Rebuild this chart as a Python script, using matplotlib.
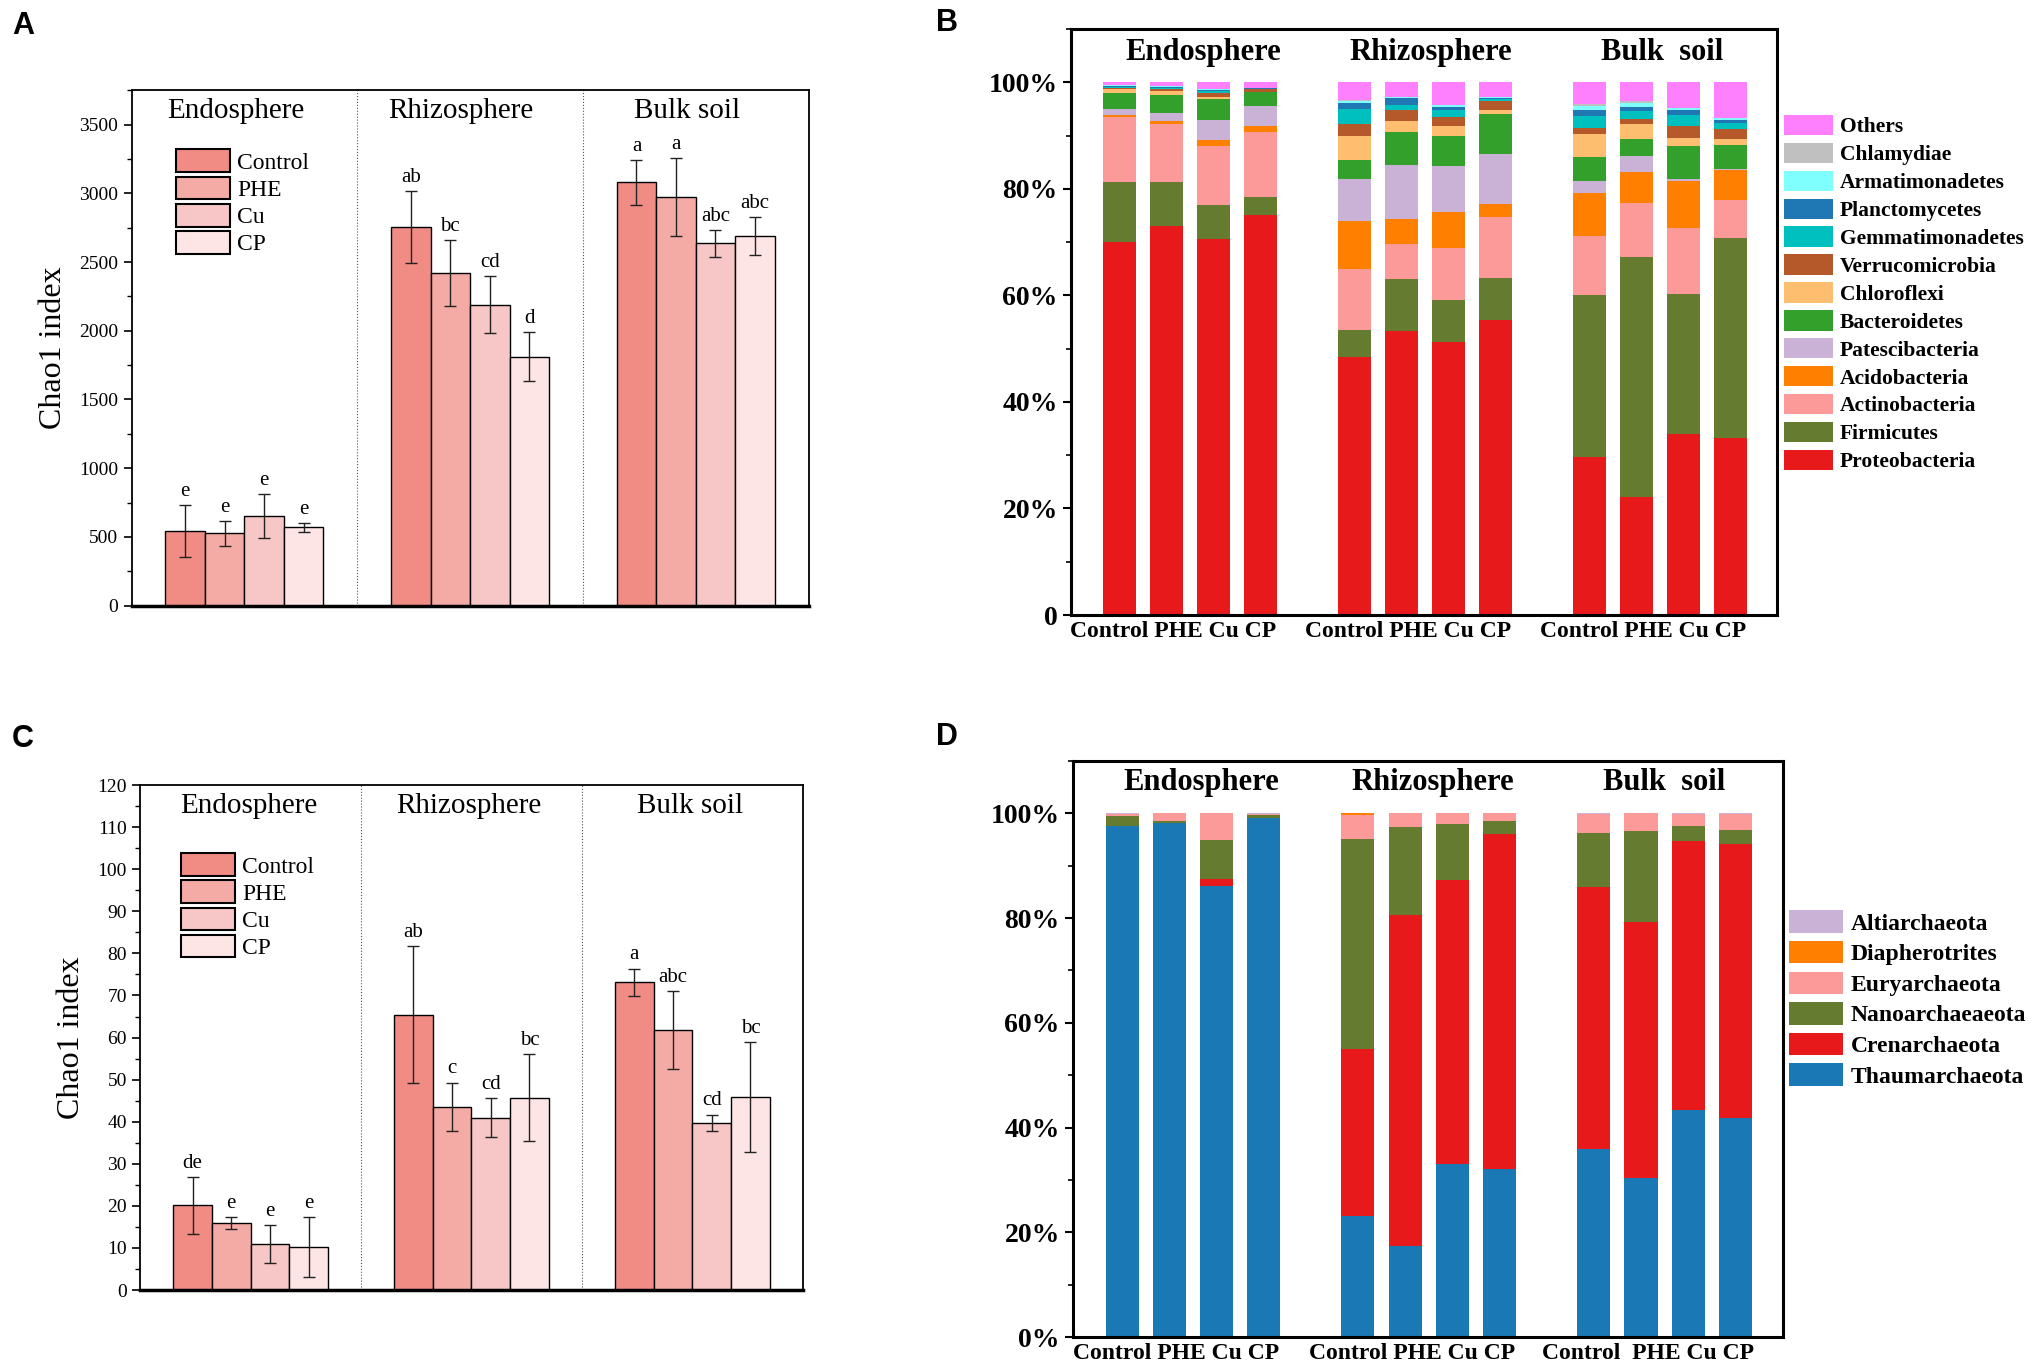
import numpy as np
import matplotlib
matplotlib.use("Agg")
import matplotlib.pyplot as plt
from matplotlib.patches import Patch
from matplotlib.ticker import MultipleLocator, FuncFormatter

plt.rcParams['font.family'] = ['Liberation Serif', 'DejaVu Serif']

# ===== Data =====
compartments = ["Endosphere", "Rhizosphere", "Bulk soil"]
treatments = ["Control", "PHE", "Cu", "CP"]
treat_colors = ["#F08C84", "#F5ABA5", "#F7C6C6", "#FDE5E5"]

# Chao1, rows = compartment, cols = treatment
chao_bac = [[542, 527, 654, 569], [2756, 2419, 2190, 1810], [3081, 2973, 2636, 2687]]
chao_bac_err = [[187, 90, 160, 33], [262, 238, 208, 178], [163, 283, 99, 138]]
chao_bac_sig = [["e", "e", "e", "e"], ["ab", "bc", "cd", "d"], ["a", "a", "abc", "abc"]]

chao_arc = [[20.1, 15.9, 10.9, 10.2], [65.4, 43.6, 41.0, 45.7], [73.1, 61.8, 39.8, 45.9]]
chao_arc_err = [[6.7, 1.4, 4.5, 7.1], [16.3, 5.7, 4.6, 10.4], [3.3, 9.3, 1.9, 13.0]]
chao_arc_sig = [["de", "e", "e", "e"], ["ab", "c", "cd", "bc"], ["a", "abc", "cd", "bc"]]

# relative abundance (%), samples: Endo C/P/Cu/CP, Rhizo C/P/Cu/CP, Bulk C/P/Cu/CP
bac_phyla = ["Proteobacteria", "Firmicutes", "Actinobacteria", "Acidobacteria",
             "Patescibacteria", "Bacteroidetes", "Chloroflexi", "Verrucomicrobia",
             "Gemmatimonadetes", "Planctomycetes", "Armatimonadetes", "Chlamydiae", "Others"]
bac_colors = ["#E8191B", "#657B30", "#FB9A99", "#FF7F00", "#CAB2D6", "#33A02C", "#FDBF6F",
              "#B5592A", "#00BFBF", "#1F77B4", "#80FFFF", "#C0C0C0", "#FF80FF"]
proteobacteria = [70.1, 73.0, 70.5, 75.1, 48.5, 53.3, 51.3, 55.4, 29.6, 22.2, 34.0, 33.3]
firmicutes = [11.2, 8.3, 6.4, 3.4, 5.0, 9.7, 7.9, 7.8, 30.4, 45.0, 26.3, 37.5]
actinobacteria = [12.1, 10.9, 11.2, 12.1, 11.5, 6.7, 9.7, 11.5, 11.2, 10.1, 12.3, 7.1]
acidobacteria = [0.5, 0.5, 1.1, 1.2, 8.9, 4.7, 6.7, 2.4, 8.0, 5.9, 8.8, 5.7]
patescibacteria = [1.1, 1.6, 3.7, 3.8, 8.0, 10.0, 8.6, 9.4, 2.3, 3.0, 0.5, 0.1]
bacteroidetes = [2.9, 3.4, 3.9, 2.5, 3.5, 6.2, 5.8, 7.6, 4.4, 3.2, 6.2, 4.5]
chloroflexi = [0.8, 0.7, 0.5, 0.1, 4.6, 2.2, 1.8, 0.7, 4.4, 2.8, 1.4, 1.2]
verrucomicrobia = [0.2, 0.4, 0.6, 0.5, 2.1, 2.0, 1.6, 1.6, 1.1, 0.9, 2.3, 1.8]
gemmatimonadetes = [0.3, 0.2, 0.4, 0.1, 2.9, 1.0, 1.4, 0.4, 2.3, 1.5, 2.0, 1.1]
planctomycetes = [0.1, 0.2, 0.2, 0.1, 1.1, 1.2, 0.6, 0.3, 1.1, 0.8, 0.9, 0.6]
armatimonadetes = [0.1, 0.1, 0.2, 0.1, 0.4, 0.2, 0.3, 0.1, 0.8, 0.8, 0.4, 0.3]
chlamydiae = [0.1, 0.0, 0.0, 0.0, 0.1, 0.1, 0.0, 0.0, 0.3, 0.2, 0.0, 0.0]
others = [0.5, 0.7, 1.3, 1.0, 3.4, 2.7, 4.3, 2.8, 4.1, 3.6, 4.9, 6.8]
bac_data = [proteobacteria, firmicutes, actinobacteria, acidobacteria, patescibacteria,
            bacteroidetes, chloroflexi, verrucomicrobia, gemmatimonadetes, planctomycetes,
            armatimonadetes, chlamydiae, others]

arc_phyla = ["Thaumarchaeota", "Crenarchaeota", "Nanoarchaeaeota", "Euryarchaeota",
             "Diapherotrites", "Altiarchaeota"]
arc_colors = ["#1A78B5", "#E8191B", "#657B30", "#FB9A99", "#FF7F00", "#CAB2D6"]
thaumarchaeota = [97.5, 98.1, 86.2, 99.2, 23.1, 17.3, 33.1, 32.1, 35.9, 30.3, 43.3, 41.9]
crenarchaeota = [0.1, 0.1, 1.2, 0.0, 32.0, 63.2, 54.2, 63.9, 50.0, 48.9, 51.4, 52.2]
nanoarchaeaeota = [1.9, 0.4, 7.6, 0.4, 40.0, 16.9, 10.7, 2.5, 10.3, 17.5, 2.8, 2.7]
euryarchaeota = [0.3, 1.4, 5.0, 0.3, 4.6, 2.6, 2.0, 1.5, 3.7, 3.3, 2.3, 3.0]
diapherotrites = [0.1, 0.0, 0.0, 0.0, 0.3, 0.0, 0.0, 0.0, 0.0, 0.0, 0.0, 0.0]
altiarchaeota = [0.1, 0.0, 0.0, 0.1, 0.0, 0.0, 0.0, 0.0, 0.1, 0.0, 0.2, 0.2]
arc_data = [thaumarchaeota, crenarchaeota, nanoarchaeaeota, euryarchaeota,
            diapherotrites, altiarchaeota]

bac_titles = ["Endosphere", "Rhizosphere", "Bulk  soil"]
bac_ticklabels = ["Control PHE Cu CP", "Control PHE Cu CP", "Control PHE Cu CP"]
arc_ticklabels = ["Control PHE Cu CP", "Control PHE Cu CP", "Control  PHE Cu CP"]


# ===== Chao1 bar panels =====
def chao_panel(ax, vals, errs, sigs, ymax, major, minor, title_y, title_dx, leg_xy):
    w = 0.175
    for g in range(3):
        for t in range(4):
            x = g + (t - 1.5) * w
            ax.bar(x, vals[g][t], w, color=treat_colors[t], edgecolor='black', linewidth=1.0,
                   yerr=errs[g][t], capsize=4,
                   error_kw=dict(elinewidth=1, capthick=1, ecolor='#222222'))
            ax.annotate(sigs[g][t], (x, vals[g][t] + errs[g][t]), xytext=(0, 3),
                        textcoords='offset points', ha='center', va='bottom', fontsize=15)
        ax.text(g + title_dx, title_y, compartments[g], ha='center', va='center', fontsize=21)
    for d in (0.5, 1.5):
        ax.axvline(d, color='#555555', linestyle=':', linewidth=0.8)
    ax.set_xlim(-0.5, 2.5)
    ax.set_ylim(0, ymax)
    ax.set_xticks([])
    ax.yaxis.set_major_locator(MultipleLocator(major))
    ax.yaxis.set_minor_locator(MultipleLocator(minor))
    ax.tick_params(axis='y', which='major', direction='out', length=6, width=1.2, labelsize=14)
    ax.tick_params(axis='y', which='minor', direction='out', length=3.5, width=1.0)
    ax.set_ylabel("Chao1 index", fontsize=23, labelpad=8)
    for s in ax.spines.values():
        s.set_linewidth(1.3)
    ax.spines['bottom'].set_linewidth(2.5)
    handles = [Patch(facecolor=c, edgecolor='black', linewidth=1.5) for c in treat_colors]
    ax.legend(handles, treatments, loc='upper left', bbox_to_anchor=leg_xy, frameon=False,
              fontsize=17, handlelength=2.3, handleheight=1.1, handletextpad=0.3,
              labelspacing=0.12, borderpad=0, borderaxespad=0)


# ===== Stacked composition panels =====
def stack_panel(ax, names, colors, data, ticklabels, title_y, title_dx, zero_label,
                leg_xy, leg_size, leg_spacing, fig):
    pos = np.concatenate([np.arange(4) + 5 * g for g in range(3)])
    bottom = np.zeros(len(pos))
    bars = []
    for vals, col in zip(data, colors):
        b = ax.bar(pos, vals, 0.7, bottom=bottom, color=col, linewidth=0)
        bars.append(b)
        bottom += np.array(vals)
    for g in range(3):
        ax.text(5 * g + 1.5 + title_dx[g], title_y, bac_titles[g], ha='center', va='center',
                fontsize=22, fontweight='bold')
    ax.set_xlim(-1.04, 14.0)
    ax.set_ylim(0, 110)
    ax.set_xticks([5 * g + 1.5 - 0.36 for g in range(3)])
    ax.set_xticklabels(ticklabels, fontsize=17, fontweight='bold')
    ax.tick_params(axis='x', length=0, pad=4)
    ax.set_yticks([0, 20, 40, 60, 80, 100])
    ax.yaxis.set_minor_locator(MultipleLocator(10))
    ax.yaxis.set_major_formatter(FuncFormatter(
        lambda v, p: zero_label if v == 0 else f"{int(v)}%"))
    ax.tick_params(axis='y', which='major', direction='out', length=6, width=1.5, labelsize=20)
    ax.tick_params(axis='y', which='minor', direction='out', length=3.5, width=1.2)
    for lab in ax.get_yticklabels():
        lab.set_fontweight('bold')
    for s in ax.spines.values():
        s.set_linewidth(2.2)
    fig.legend(bars[::-1], names[::-1], loc='upper left', bbox_to_anchor=leg_xy,
               bbox_transform=fig.transFigure, frameon=False,
               prop=dict(size=leg_size, weight='bold'), handlelength=2.3, handleheight=1.08,
               handletextpad=0.3, labelspacing=leg_spacing, borderpad=0, borderaxespad=0)


fig = plt.figure(figsize=(20.33, 13.67), dpi=100)
axA = fig.add_axes([0.0647, 0.557, 0.333, 0.377])
axC = fig.add_axes([0.0689, 0.0563, 0.326, 0.3694])
axB = fig.add_axes([0.5268, 0.5501, 0.3473, 0.4287])
axD = fig.add_axes([0.5278, 0.0219, 0.3490, 0.4214])

chao_panel(axA, chao_bac, chao_bac_err, chao_bac_sig, 3750, 500, 250, 3600, -0.04, (0.065, 0.885))
chao_panel(axC, chao_arc, chao_arc_err, chao_arc_sig, 120, 10, 5, 115, -0.01, (0.061, 0.865))

stack_panel(axB, bac_phyla, bac_colors, bac_data, bac_ticklabels, 105.5, [0.28, 0.12, 0.05],
            "0", (0.8775, 0.916), 15.5, 0.25, fig)
stack_panel(axD, arc_phyla, arc_colors, arc_data, arc_ticklabels, 105.9, [0.17, 0.09, 0.0],
            "0%", (0.880, 0.334), 17, 0.27, fig)

for lab, x, y in [("A", 0.0113, 0.981), ("B", 0.4658, 0.983),
                  ("C", 0.0113, 0.4594), ("D", 0.4658, 0.4609)]:
    fig.text(x, y, lab, ha='center', va='center', fontsize=22, fontweight='bold',
             family=['Liberation Sans', 'DejaVu Sans'])

fig.savefig("out.png", dpi=100)
